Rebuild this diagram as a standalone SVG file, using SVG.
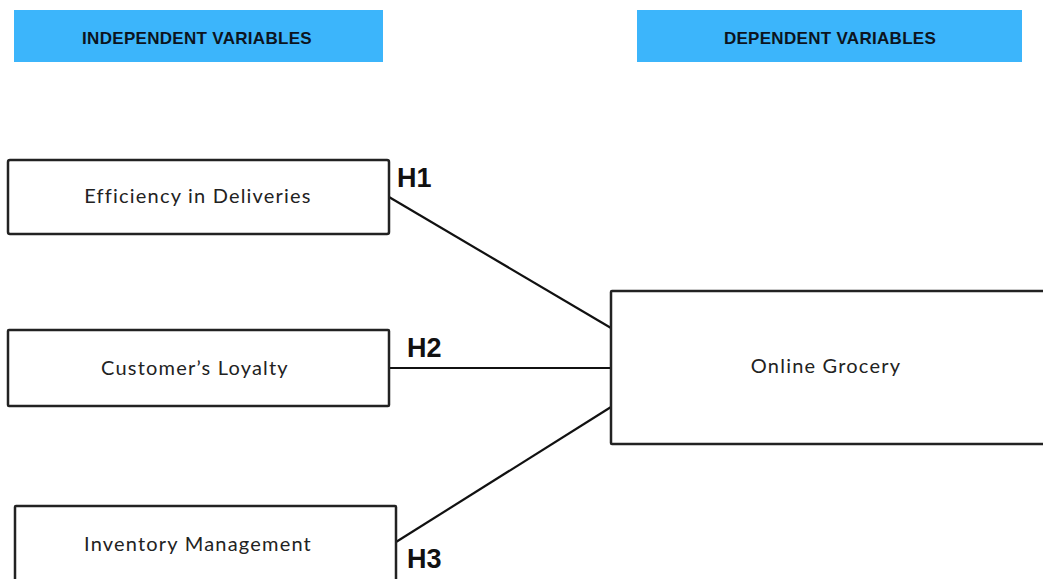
<svg xmlns="http://www.w3.org/2000/svg" width="1043" height="579" viewBox="0 0 1043 579">
<style>
.hdr{fill:#3cb5fb}
.hdrt{font-family:"Liberation Sans",Arial,sans-serif;font-weight:bold;font-size:17px;letter-spacing:0.3px;fill:#0c1420;text-anchor:middle}
.box{fill:#fff;stroke:#222;stroke-width:2.5}
.lbl{font-family:Lato,"Noto Sans",sans-serif;font-size:20px;letter-spacing:1.2px;fill:#222;text-anchor:middle}
.h{font-family:"Liberation Sans",Arial,sans-serif;font-weight:bold;font-size:27px;fill:#111}
.con{stroke:#111;stroke-width:2.2;fill:none}
</style>
<rect width="1043" height="579" fill="#fff"/>
<g id="hdr-independent">
<rect class="hdr" x="14" y="10" width="369" height="52"/>
<text class="hdrt" x="197" y="44">INDEPENDENT VARIABLES</text>
</g>
<g id="hdr-dependent">
<rect class="hdr" x="637" y="10" width="385" height="52"/>
<text class="hdrt" x="830" y="44">DEPENDENT VARIABLES</text>
</g>
<g id="connectors">
<line class="con" x1="389" y1="197" x2="611" y2="328"/>
<line class="con" x1="389" y1="368" x2="611" y2="368"/>
<line class="con" x1="396" y1="542" x2="611" y2="407"/>
<text class="h" x="397" y="187">H1</text>
<text class="h" x="407" y="357">H2</text>
<text class="h" x="407" y="568">H3</text>
</g>
<g id="node-efficiency">
<rect class="box" x="8" y="160" width="381" height="74" rx="2"/>
<text class="lbl" x="198" y="203">Efficiency in Deliveries</text>
</g>
<g id="node-loyalty">
<rect class="box" x="8" y="330" width="381" height="76" rx="1"/>
<text class="lbl" x="195" y="375">Customer’s Loyalty</text>
</g>
<g id="node-inventory">
<rect class="box" x="15" y="506" width="381" height="80" rx="1"/>
<text class="lbl" x="198" y="551">Inventory Management</text>
</g>
<g id="node-online">
<rect class="box" x="611" y="291" width="450" height="153" rx="1"/>
<text class="lbl" x="826" y="373">Online Grocery</text>
</g>
</svg>
